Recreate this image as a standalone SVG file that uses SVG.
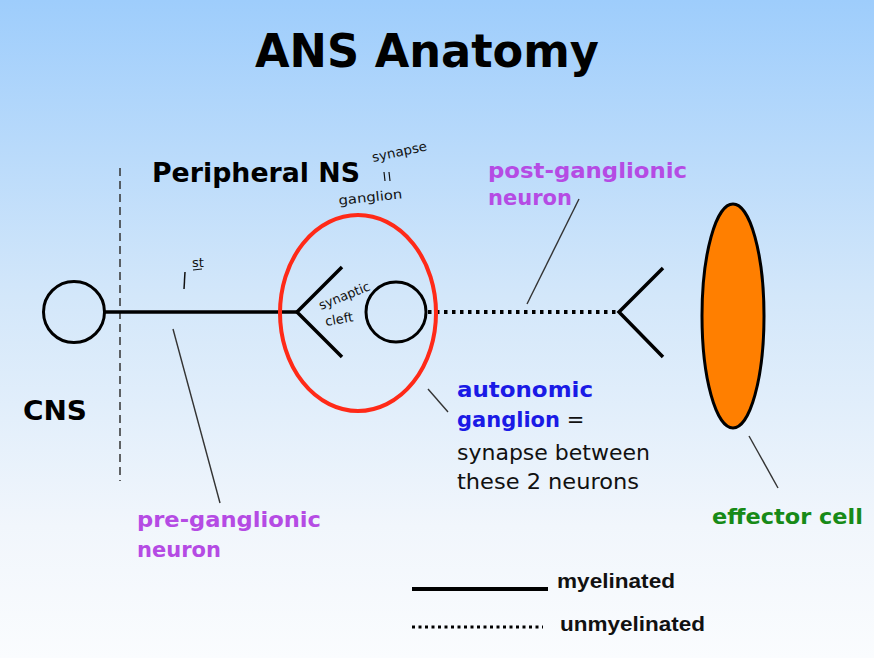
<svg xmlns="http://www.w3.org/2000/svg" width="874" height="658" viewBox="0 0 874 658">
<defs>
<linearGradient id="bg" x1="0" y1="0" x2="0" y2="1">
<stop offset="0" stop-color="#9ecdfc"/>
<stop offset="0.45" stop-color="#d3e7fa"/>
<stop offset="0.8" stop-color="#f1f6fc"/>
<stop offset="1" stop-color="#fafcfe"/>
</linearGradient>
<style>
.title{font-family:"DejaVu Sans",sans-serif;font-weight:bold;font-size:46px;fill:#000}
.head{font-family:"DejaVu Sans",sans-serif;font-weight:bold;fill:#000}
.purple{font-family:"DejaVu Sans",sans-serif;font-weight:bold;font-size:21px;fill:#b54be4}
.blue{font-family:"DejaVu Sans",sans-serif;font-weight:bold;font-size:21px;fill:#1a1ae6}
.plain{font-family:"DejaVu Sans",sans-serif;font-size:21px;fill:#111}
.green{font-family:"DejaVu Sans",sans-serif;font-weight:bold;font-size:21px;fill:#178a17}
.legend{font-family:"Liberation Sans",Arial,sans-serif;font-weight:bold;font-size:21px;fill:#111}
.hand{font-family:"DejaVu Sans",sans-serif;font-size:13px;fill:#111}
.axon{stroke:#000;stroke-width:3.5;fill:none}
.dots{stroke:#000;stroke-width:4;stroke-dasharray:3.5 4.5;fill:none}
.cell{stroke:#000;stroke-width:3;fill:none}
.leader{stroke:#333;stroke-width:1.4;fill:none}
</style>
</defs>
<rect x="0" y="0" width="874" height="658" fill="url(#bg)"/>
<text class="title" x="427" y="67" text-anchor="middle" textLength="344" lengthAdjust="spacingAndGlyphs">ANS Anatomy</text>

<g id="boundary">
<line x1="120" y1="168" x2="120" y2="481" stroke="#333" stroke-width="1.5" stroke-dasharray="8 5"/>
<text class="head" x="152" y="182" font-size="27" textLength="208" lengthAdjust="spacingAndGlyphs">Peripheral NS</text>
<text class="head" x="23" y="420" font-size="26" textLength="64" lengthAdjust="spacingAndGlyphs">CNS</text>
</g>

<g id="connectors">
<line class="axon" x1="105" y1="312" x2="297" y2="312"/>
<line class="dots" x1="428" y1="312" x2="617" y2="312"/>
<line class="leader" x1="173" y1="329" x2="220" y2="503"/>
<line class="leader" x1="579" y1="199" x2="527" y2="304"/>
<line class="leader" x1="428" y1="389" x2="448" y2="412"/>
<line class="leader" x1="749" y1="436" x2="778" y2="488"/>
</g>

<g id="cns-neuron">
<circle class="cell" cx="74" cy="312" r="30.5"/>
</g>

<g id="pre-terminal">
<polyline class="axon" points="342,267 297,312 342,357"/>
</g>

<g id="post-neuron">
<circle class="cell" cx="396" cy="312" r="30"/>
</g>

<g id="ganglion">
<ellipse cx="358" cy="313" rx="78" ry="98" fill="none" stroke="#ff2a18" stroke-width="4"/>
</g>

<g id="post-terminal">
<polyline class="axon" points="663,268 619,312 663,357"/>
</g>

<g id="effector">
<ellipse cx="733" cy="316" rx="31" ry="112" fill="#ff7f00" stroke="#000" stroke-width="3"/>
<text class="green" x="712" y="524" textLength="151" lengthAdjust="spacingAndGlyphs">effector cell</text>
</g>

<g id="labels">
<text class="purple" x="488" y="178" textLength="199" lengthAdjust="spacingAndGlyphs">post-ganglionic</text>
<text class="purple" x="488" y="205">neuron</text>
<text class="purple" x="137" y="527" textLength="184" lengthAdjust="spacingAndGlyphs">pre-ganglionic</text>
<text class="purple" x="137" y="557">neuron</text>
<text class="blue" x="457" y="397" textLength="136" lengthAdjust="spacingAndGlyphs">autonomic</text>
<text x="457" y="427"><tspan class="blue">ganglion</tspan><tspan class="plain"> =</tspan></text>
<text class="plain" x="457" y="460" textLength="193" lengthAdjust="spacingAndGlyphs">synapse between</text>
<text class="plain" x="457" y="489" textLength="182" lengthAdjust="spacingAndGlyphs">these 2 neurons</text>
</g>

<g id="annotations">
<text class="hand" transform="translate(373,162) rotate(-12)" textLength="56" lengthAdjust="spacingAndGlyphs">synapse</text>
<line x1="384" y1="172" x2="385" y2="181" stroke="#111" stroke-width="1.2"/>
<line x1="389" y1="172" x2="390" y2="181" stroke="#111" stroke-width="1.2"/>
<text class="hand" transform="translate(339,205) rotate(-6)" textLength="64" lengthAdjust="spacingAndGlyphs">ganglion</text>
<line x1="185" y1="272" x2="184" y2="289" stroke="#111" stroke-width="1.5"/>
<text class="hand" x="192" y="267" font-size="11">st</text>
<line x1="193" y1="270" x2="202" y2="269" stroke="#111" stroke-width="1"/>
<text class="hand" transform="translate(321,310) rotate(-22)" textLength="54" lengthAdjust="spacingAndGlyphs">synaptic</text>
<text class="hand" transform="translate(326,326) rotate(-10)">cleft</text>
</g>

<g id="legend">
<line x1="412" y1="589" x2="548" y2="589" stroke="#000" stroke-width="4"/>
<text class="legend" x="557" y="588" textLength="118" lengthAdjust="spacingAndGlyphs">myelinated</text>
<line x1="412" y1="627" x2="543" y2="627" stroke="#000" stroke-width="3" stroke-dasharray="3 3.5"/>
<text class="legend" x="560" y="631" textLength="145" lengthAdjust="spacingAndGlyphs">unmyelinated</text>
</g>
</svg>
